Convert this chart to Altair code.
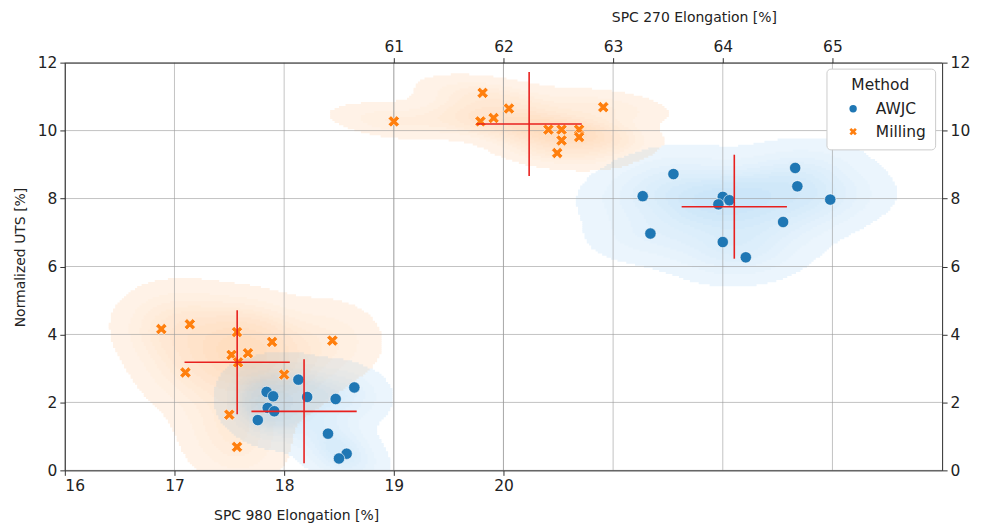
import numpy as np
import pandas as pd
import altair as alt

# ---------------- data ----------------
methods = ["AWJC", "Milling"]
method_colors = ["#1f77b4", "#ff7f0e"]
kde_colors = ["#3a9ee8", "#ff7f0e"]

# SPC 980 (bottom x axis)
awjc_980_x = [18.13, 17.84, 17.90, 18.21, 18.47, 18.64, 17.85, 17.91, 17.76, 18.40, 18.57, 18.50]
awjc_980_y = [2.67, 2.31, 2.18, 2.16, 2.10, 2.44, 1.84, 1.74, 1.48, 1.08, 0.49, 0.35]
mill_980_x = [16.88, 17.14, 17.57, 17.89, 18.44, 17.52, 17.67, 17.58, 17.10, 18.00, 17.50, 17.57]
mill_980_y = [4.16, 4.30, 4.07, 3.78, 3.82, 3.40, 3.45, 3.18, 2.88, 2.82, 1.64, 0.69]

# SPC 270 (top x axis)
awjc_270_x = [63.55, 63.27, 63.34, 64.00, 64.06, 63.96, 64.00, 64.21, 64.55, 64.66, 64.68, 64.98]
awjc_270_y = [8.72, 8.07, 6.97, 8.05, 7.95, 7.83, 6.72, 6.27, 7.31, 8.90, 8.36, 7.97]
mill_270_x = [61.81, 62.05, 61.91, 61.79, 62.91, 62.41, 62.53, 62.69, 62.53, 62.69, 62.49, 61.00]
mill_270_y = [11.11, 10.65, 10.37, 10.27, 10.69, 10.03, 10.03, 10.03, 9.71, 9.81, 9.34, 10.27]

# half-lengths of the red cross-hairs (x, y) per method
cross_err_x = [0.48, 0.48]
cross_err_y = [1.53, 1.53]

# axes
bottom_domain = [16, 24]
top_domain = [58, 66]
y_domain = [0, 12]
bottom_ticks = [16, 17, 18, 19, 20]
top_ticks = [61, 62, 63, 64, 65]
y_ticks = [0, 2, 4, 6, 8, 10, 12]

FONT = "DejaVu Sans"
X_PATH = ("M-1,-0.5L-0.5,-1L0,-0.5L0.5,-1L1,-0.5L0.5,0L1,0.5L0.5,1"
          "L0,0.5L-0.5,1L-1,0.5L-0.5,0Z")


# ---------------- KDE (seaborn-like, Scott bandwidth, iso-proportion levels) ----------------
def kde_setup(xs, ys):
    data = np.vstack([xs, ys]).astype(float)
    n = data.shape[1]
    f = n ** (-1.0 / 6.0)
    cov = np.cov(data) * f * f
    return data, cov


def kde_eval(data, cov, X, Y):
    inv = np.linalg.inv(cov)
    n = data.shape[1]
    norm = 1.0 / (2 * np.pi * np.sqrt(np.linalg.det(cov))) / n
    dx = X[..., None] - data[0]
    dy = Y[..., None] - data[1]
    q = inv[0, 0] * dx * dx + 2 * inv[0, 1] * dx * dy + inv[1, 1] * dy * dy
    return norm * np.exp(-0.5 * q).sum(-1)


def kde_levels(data, cov, thresh=0.05, nlev=10):
    bw = np.sqrt(np.diag(cov))
    gx = np.linspace(data[0].min() - 3 * bw[0], data[0].max() + 3 * bw[0], 200)
    gy = np.linspace(data[1].min() - 3 * bw[1], data[1].max() + 3 * bw[1], 200)
    X, Y = np.meshgrid(gx, gy)
    d = kde_eval(data, cov, X, Y)
    vals = np.sort(d.ravel())[::-1]
    cum = np.cumsum(vals) / vals.sum()
    iso = np.linspace(thresh, 1, nlev)
    idx = np.searchsorted(cum, 1 - iso)
    return np.take(vals, idx, mode="clip")


def panel_cells(groups, xlo, xhi, ylo, yhi, dx, dy):
    nx = int(round((xhi - xlo) / dx))
    ny = int(round((yhi - ylo) / dy))
    xc = xlo + (np.arange(nx) + 0.5) * dx
    yc = ylo + (np.arange(ny) + 0.5) * dy
    X, Y = np.meshgrid(xc, yc)
    rgb = np.full((ny, nx, 3), 255.0)
    for xs, ys, hexcol in groups:
        col = np.array([int(hexcol[i:i + 2], 16) for i in (1, 3, 5)], dtype=float)
        data, cov = kde_setup(xs, ys)
        lv = kde_levels(data, cov)
        d = kde_eval(data, cov, X, Y)
        band = np.clip(np.searchsorted(lv, d, side="right") - 1, -1, 8)
        a = np.where(band >= 0, 0.10 + 0.16 * band / 8.0, 0.0)
        rgb = rgb * (1 - a[..., None]) + col[None, None, :] * a[..., None]
    rgb = np.clip(np.round(rgb), 0, 255).astype(int)
    rows = []
    for j in range(ny):
        i = 0
        while i < nx:
            c = tuple(rgb[j, i])
            k = i
            while k + 1 < nx and tuple(rgb[j, k + 1]) == c:
                k += 1
            if c != (255, 255, 255):
                rows.append({
                    "x0": xlo + i * dx,
                    "x1": xlo + (k + 1) * dx + dx * 0.4,
                    "y0": ylo + j * dy,
                    "y1": ylo + (j + 1) * dy + dy * 0.4,
                    "fill": "#%02x%02x%02x" % c,
                })
            i = k + 1
    return pd.DataFrame(rows)


kde_bottom = panel_cells(
    [(mill_980_x, mill_980_y, kde_colors[1]), (awjc_980_x, awjc_980_y, kde_colors[0])],
    16.0, 20.5, 0.0, 7.5, 0.02, 0.06)
kde_top = panel_cells(
    [(mill_270_x, mill_270_y, kde_colors[1]), (awjc_270_x, awjc_270_y, kde_colors[0])],
    58.6, 66.0, 3.5, 12.0, 0.02, 0.06)

# points
pts_bottom = pd.DataFrame({
    "x": awjc_980_x + mill_980_x,
    "y": awjc_980_y + mill_980_y,
    "Method": ["AWJC"] * len(awjc_980_x) + ["Milling"] * len(mill_980_x),
})
pts_top = pd.DataFrame({
    "x": awjc_270_x + mill_270_x,
    "y": awjc_270_y + mill_270_y,
    "Method": ["AWJC"] * len(awjc_270_x) + ["Milling"] * len(mill_270_x),
})


def cross_df(xs_list, ys_list):
    rows = []
    for m, xs, ys, ex, ey in zip(methods, xs_list, ys_list, cross_err_x, cross_err_y):
        mx, my = float(np.mean(xs)), float(np.mean(ys))
        rows.append({"Method": m, "mx": mx, "my": my, "xl": mx - ex, "xr": mx + ex,
                     "yl": my - ey, "yh": my + ey})
    return pd.DataFrame(rows)


cross_bottom = cross_df([awjc_980_x, mill_980_x], [awjc_980_y, mill_980_y])
cross_top = cross_df([awjc_270_x, mill_270_x], [awjc_270_y, mill_270_y])


# ---------------- encodings ----------------
axis_common = dict(labelFont=FONT, titleFont=FONT, labelFontSize=15.5, titleFontSize=14,
                   titleFontWeight="normal", labelColor="#222222", titleColor="#222222",
                   domainColor="#333333", tickColor="#333333", tickSize=5, grid=False,
                   zindex=1, labelPadding=3)

axis_bottom = alt.Axis(orient="bottom", values=bottom_ticks, title="SPC 980 Elongation [%]",
                       titleX=232, titlePadding=15, **axis_common)
axis_top = alt.Axis(orient="top", values=top_ticks, title="SPC 270 Elongation [%]",
                    titleX=631, titlePadding=15, **axis_common)
axis_left = alt.Axis(orient="left", values=y_ticks, title="Normalized UTS [%]",
                     titlePadding=10, titleY=195, **axis_common)
axis_right = alt.Axis(orient="right", values=y_ticks, title=None, **axis_common)


def xb(field, axis=None):
    return alt.X(field, type="quantitative",
                 scale=alt.Scale(domain=bottom_domain, nice=False, zero=False), axis=axis)


def xt(field, axis=None):
    return alt.X(field, type="quantitative",
                 scale=alt.Scale(domain=top_domain, nice=False, zero=False), axis=axis)


def yy(field, axis=None):
    return alt.Y(field, type="quantitative",
                 scale=alt.Scale(domain=y_domain, nice=False, zero=False), axis=axis)


legend = alt.Legend(title="Method", orient="none", legendX=764, legendY=6,
                    strokeColor="#cccccc", fillColor="white", padding=9, cornerRadius=4,
                    titleFont=FONT, labelFont=FONT, titleFontSize=15.5, labelFontSize=15.5,
                    titleFontWeight="normal", titleAnchor="middle", titlePadding=8,
                    symbolSize=55, rowPadding=6, labelOffset=15, symbolOffset=10,
                    labelColor="#222222", titleColor="#222222", symbolStrokeWidth=0)

color_enc = alt.Color("Method:N", scale=alt.Scale(domain=methods, range=method_colors),
                      legend=legend)
shape_enc = alt.Shape("Method:N", scale=alt.Scale(domain=methods, range=["circle", X_PATH]),
                      legend=legend)

# ---------------- layers ----------------
kde_b = alt.Chart(kde_bottom).mark_rect(strokeWidth=0, clip=True).encode(
    x=xb("x0", axis_bottom), x2="x1", y=yy("y0", axis_left), y2="y1",
    color=alt.Color("fill:N", scale=None))
kde_t = alt.Chart(kde_top).mark_rect(strokeWidth=0, clip=True).encode(
    x=xt("x0", axis_top), x2="x1", y=yy("y0", axis_right), y2="y1",
    color=alt.Color("fill:N", scale=None))

grid_style = dict(color="#9a9a9a", strokeWidth=1, opacity=0.6)
grid_xb = alt.Chart(pd.DataFrame({"v": bottom_ticks})).mark_rule(**grid_style).encode(x=xb("v"))
grid_xt = alt.Chart(pd.DataFrame({"v": top_ticks})).mark_rule(**grid_style).encode(x=xt("v"))
grid_y = alt.Chart(pd.DataFrame({"v": y_ticks})).mark_rule(**grid_style).encode(y=yy("v"))

pt_b = alt.Chart(pts_bottom).mark_point(filled=True, size=130, opacity=1, stroke="white",
                                        strokeWidth=0.6).encode(
    x=xb("x"), y=yy("y"), color=color_enc, shape=shape_enc)
pt_t = alt.Chart(pts_top).mark_point(filled=True, size=130, opacity=1, stroke="white",
                                     strokeWidth=0.6).encode(
    x=xt("x"), y=yy("y"), color=color_enc, shape=shape_enc)

red = "#e8201e"
ch_b = alt.Chart(cross_bottom).mark_rule(color=red, strokeWidth=1.6).encode(
    x=xb("xl"), x2="xr", y=yy("my"))
cv_b = alt.Chart(cross_bottom).mark_rule(color=red, strokeWidth=1.6).encode(
    x=xb("mx"), y=yy("yl"), y2="yh")
ch_t = alt.Chart(cross_top).mark_rule(color=red, strokeWidth=1.6).encode(
    x=xt("xl"), x2="xr", y=yy("my"))
cv_t = alt.Chart(cross_top).mark_rule(color=red, strokeWidth=1.6).encode(
    x=xt("mx"), y=yy("yl"), y2="yh")

chart = alt.layer(
    kde_b, kde_t, grid_xb, grid_xt, grid_y, pt_b, pt_t, ch_b, cv_b, ch_t, cv_t
).resolve_scale(
    x="independent", y="independent"
).properties(
    width=880, height=409,
    padding={"left": 5, "top": 2, "right": 5, "bottom": 2},
).configure_view(
    stroke=None
).configure(
    font=FONT
)

chart.save("out.html", embed_options={"renderer": "svg", "actions": False})
